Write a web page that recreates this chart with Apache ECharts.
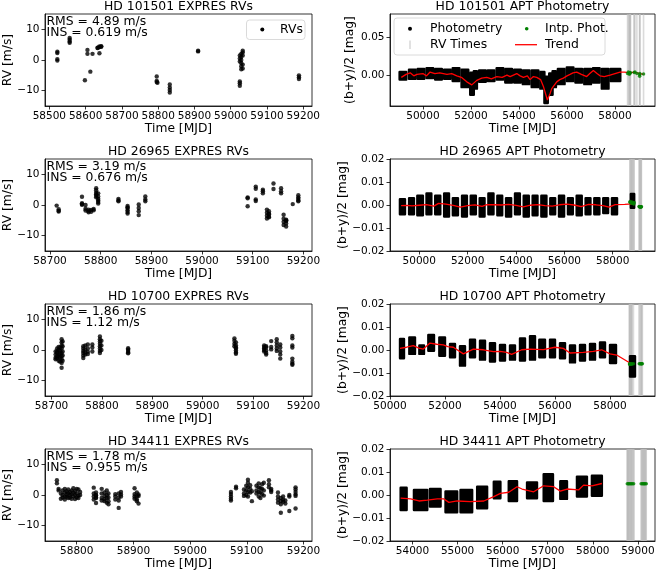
<!DOCTYPE html>
<html>
<head>
<meta charset="utf-8">
<title>EXPRES RVs and APT photometry</title>
<script src="https://cdn.jsdelivr.net/npm/echarts@6/dist/echarts.min.js"></script>
<style>
html, body { margin: 0; padding: 0; background: #fff; }
#main { width: 657px; height: 572px; }
</style>
</head>
<body>
<div id="main"></div>
<script>
// ---------------- data ----------------
var stars = ['HD 101501', 'HD 26965', 'HD 10700', 'HD 34411'];
var rmsText = ['4.89', '3.19', '1.86', '1.78'];
var insText = ['0.619', '0.676', '1.12', '0.955'];

// RVs: [night MJD, [rv values m/s]]
var rv101501 = [
    [58522, [2.7, 2.3, 0.3, -0.2]], [58556, [7.2, 6.6, 6.0, 5.6]], [58598, [-6.6]],
    [58605, [3.3, 2.0]], [58613, [-3.8]], [58619, [2.0]], [58633, [4.0, 3.9]],
    [58638, [4.4, 4.2, 2.2]], [58643, [4.5, 4.3]], [58796, [-5.4, -6.8, -7.2]],
    [58798, [-7.4]], [58832, [-8.0, -9.0, -9.8, -10.6]], [58910, [3.0, 2.8]],
    [59025, [-7.0, -7.6, -8.4, 1.5, 0.5, -0.5]], [59029, [2.0, 1.0, 0.0, -1.0, -2.0, -3.0]],
    [59033, [3.0, 2.5, 1.5, -1.5, -2.8]], [59188, [-5.0, -5.6, -6.2]]
];
var rv26965 = [
    [58713, [-0.2]], [58717, [-1.4, -1.9, -2.1]], [58763, [2.7, 0.6, 0.1, 0.3]],
    [58770, [0.0, -1.2, -1.8]], [58776, [-1.5, -2.0, -2.4]], [58781, [-2.2, -1.6]],
    [58786, [-1.3, -1.7]], [58791, [5.5, 4.8, 4.0, 3.5, 3.0, 2.5]],
    [58795, [3.8, 2.8, 2.0, 1.5, 1.0, 0.5]], [58835, [2.0, 1.5, 1.2]],
    [58853, [-0.3, -1.0, -1.7, -2.3, -2.8, -0.8]], [58875, [0.2, -1.0, -2.0, -3.3]],
    [58888, [2.8, 1.2, 1.8]], [59090, [2.5, 2.2, -0.4]], [59106, [6.0, 5.3, 1.8, 1.3]],
    [59120, [5.0, 4.5, 3.8]], [59128, [-1.5, -2.5, -3.5, -4.4]], [59132, [-2.0, -3.0, -4.0, -2.8, -3.8]],
    [59141, [7.0, 5.2]], [59156, [5.5, 3.8, 4.5]], [59161, [-3.2, -4.5, -5.5, -6.5]],
    [59166, [-5.0, -6.0, -7.0, -5.2, -4.8]], [59179, [0.3]], [59190, [3.2, 2.5, 2.0, 1.5, 1.2]]
];
var rv10700 = [
    [58708, [-0.5, -1.5, -2.5, -3.0]], [58711, [0.5, -0.5, -1.0, -2.0, -2.8]],
    [58714, [1.0, 0.0, -1.5, -2.2, -3.5]], [58717, [0.8, -0.3, -1.2, -2.5, -3.8]],
    [58720, [3.5, 2.5, 1.5, 0.5, -1.0, -2.0, -3.0, -4.2, -5.8]], [58722, [2.8, 1.2, -0.5, -1.8, -3.5]],
    [58763, [1.2, 0.5, -0.3, -1.0, -1.8, -2.6]], [58767, [1.5, 0.2, -0.8, -1.5]],
    [58772, [1.8, 0.5, -0.6, -1.3]], [58781, [1.8, 0.8, -0.5]],
    [58796, [4.4, 3.5, 2.8, 2.0, 1.2, 0.5, -0.3, -1.0]], [58799, [3.0, 1.5, 0.0]],
    [58852, [0.6, 0.2, -0.3, -0.8, -1.1]], [59063, [3.8, 3.0, 2.0, 1.2]],
    [59066, [0.5, -0.2, -0.8, -1.2, 1.5, 0.8, 2.5]], [59122, [1.5, 1.0, 0.5, 0.0, -0.5]],
    [59126, [-1.0, -1.5, 0.8, -0.2, 1.2]], [59136, [2.9, 1.0, 0.2]],
    [59147, [3.5, 2.5, 1.5, 0.5, -0.3]], [59154, [1.8, 0.8, -0.5, -1.5, -2.8]],
    [59178, [4.6, 3.8, 1.5, 0.8, -2.8, -3.8, -4.5, -4.8]]
];
var rv34411 = [
    [58765, [4.8, 3.8]], [58768, [2.0, 1.5]], [58772, [0.5, -1.2]], [58775, [1.5, 0.0, -0.8]],
    [58779, [2.0, 0.8, -0.5, -1.5]], [58782, [1.2, 0.2, -0.6]], [58785, [1.8, 0.5, -1.0]],
    [58788, [0.0, -0.8, 1.0]], [58791, [1.5, 0.3, -1.2]], [58794, [2.2, 0.8, -0.4]],
    [58797, [0.0, -1.3, 1.2]], [58800, [2.0, 0.5, -0.8]], [58803, [1.8, -0.2, -1.0]],
    [58806, [1.0, 0.0]], [58830, [2.4, 0.5, -0.5, -1.5]], [58834, [0.0, -1.0, -0.2, -2.6, 0.8, -0.8]],
    [58844, [2.0, 0.5, -1.0, -1.8]], [58849, [0.8, -0.3, -1.4, -2.0]], [58853, [1.5, 0.0, -1.0, -2.5]],
    [58856, [0.5, -0.8, -3.0, -2.0]], [58868, [0.3, -0.5, -1.5]], [58874, [0.5, -0.8, -4.2, -1.8]],
    [58878, [1.0, 0.2, -0.5]], [58902, [2.2, 0.3, -0.5, -1.2]], [58906, [0.8, -0.5, -1.5, -2.0]],
    [58909, [-0.3, -2.8, 0.2]], [59072, [1.0, 0.3, -0.5, -1.2, -1.8]], [59081, [2.7, 2.2]],
    [59095, [1.8, 0.5, -0.3]], [59099, [3.0, 1.5, 0.0]], [59102, [5.0, 4.0, 2.5, 1.0, -0.5]],
    [59106, [3.2, 2.0, 0.8]], [59109, [-2.0, 1.2]], [59117, [3.0, 1.5, 0.5]],
    [59121, [3.8, 2.5, 1.0, -0.5]], [59124, [2.2, 0.8, -1.0]], [59127, [3.5, 2.0, 0.3]],
    [59130, [4.0, 1.5, -0.2]], [59139, [4.8, 3.5, 2.5]], [59143, [1.5, 1.0, 2.0]],
    [59155, [0.8, -0.5, -1.5, -2.5]], [59160, [-1.0, -2.0, -3.0, -5.8]], [59164, [-0.5, -2.2, -1.5]],
    [59168, [-2.8, -1.8]], [59175, [0.0, -0.5, -5.2]], [59186, [2.5, 1.8, 1.0, 0.2, -0.3, -4.4]]
];

// photometry seasons: [start MJD, end MJD, lowest mag, highest mag]
var phot101501 = [
    [49030, 49310, -0.006, 0.004], [49420, 49700, -0.005, 0.007], [49780, 50060, -0.005, 0.008],
    [50150, 50430, -0.004, 0.009], [50510, 50790, -0.006, 0.008], [50880, 51160, -0.005, 0.007],
    [51240, 51520, -0.008, 0.009], [51610, 51890, -0.016, 0.007], [51970, 52120, -0.026, 0.003],
    [52120, 52250, -0.018, 0.005], [52340, 52620, -0.009, 0.006], [52700, 52980, -0.008, 0.006],
    [53070, 53350, -0.006, 0.009], [53430, 53710, -0.010, 0.008], [53800, 54080, -0.010, 0.007],
    [54160, 54440, -0.012, 0.006], [54530, 54810, -0.016, 0.006], [54890, 55060, -0.018, 0.004],
    [55060, 55200, -0.037, -0.002], [55260, 55400, -0.026, 0.002], [55400, 55540, -0.016, 0.005],
    [55620, 55900, -0.012, 0.008], [55990, 56270, -0.008, 0.010], [56350, 56630, -0.010, 0.008],
    [56720, 57000, -0.012, 0.008], [57080, 57360, -0.010, 0.009], [57450, 57730, -0.018, 0.008],
    [57810, 58220, -0.008, 0.008]
];
var phot26965 = [
    [49200, 49410, -0.0040, 0.0025], [49580, 49780, -0.0040, 0.0030], [49920, 50150, -0.0045, 0.0040],
    [50300, 50500, -0.0040, 0.0050], [50660, 50870, -0.0040, 0.0040], [51030, 51230, -0.0050, 0.0050],
    [51390, 51600, -0.0045, 0.0030], [51770, 51970, -0.0050, 0.0040], [52130, 52340, -0.0040, 0.0040],
    [52500, 52700, -0.0050, 0.0030], [52860, 53070, -0.0040, 0.0050], [53230, 53430, -0.0045, 0.0040],
    [53590, 53800, -0.0050, 0.0030], [53960, 54160, -0.0040, 0.0050], [54320, 54530, -0.0050, 0.0040],
    [54690, 54890, -0.0045, 0.0040], [55050, 55260, -0.0050, 0.0040], [55420, 55620, -0.0040, 0.0030],
    [55780, 55990, -0.0050, 0.0040], [56150, 56350, -0.0040, 0.0030], [56510, 56720, -0.0045, 0.0040],
    [56880, 57080, -0.0040, 0.0030], [57240, 57450, -0.0040, 0.0030], [57610, 57810, -0.0035, 0.0030],
    [57970, 58180, -0.0040, 0.0030], [58750, 58890, -0.0012, 0.0048]
];
var phot10700 = [
    [50364, 50509, -0.0036, 0.0048], [50703, 50909, -0.0017, 0.0055], [51067, 51236, -0.0017, 0.0020],
    [51394, 51600, -0.0003, 0.0065], [51794, 52000, -0.0025, 0.0055], [52182, 52364, -0.0032, 0.0026],
    [52545, 52727, -0.0068, 0.0016], [52909, 53091, -0.0032, 0.0045], [53273, 53455, -0.0042, 0.0040],
    [53636, 53818, -0.0050, 0.0030], [54000, 54182, -0.0046, 0.0022], [54364, 54545, -0.0042, 0.0020],
    [54727, 54909, -0.0046, 0.0050], [55091, 55273, -0.0042, 0.0060], [55430, 55636, -0.0032, 0.0045],
    [55818, 56000, -0.0032, 0.0045], [56182, 56364, -0.0036, 0.0030], [56545, 56727, -0.0054, 0.0020],
    [56909, 57091, -0.0046, 0.0022], [57273, 57455, -0.0042, 0.0026], [57636, 57818, -0.0032, 0.0033],
    [58000, 58218, -0.0057, 0.0022], [58727, 58909, -0.0115, -0.0027]
];
var phot34411 = [
    [53736, 53869, -0.0065, 0.0032], [54031, 54327, -0.0065, 0.0022], [54386, 54622, -0.0050, 0.0026],
    [54732, 54991, -0.0075, 0.0015], [55065, 55323, -0.0075, 0.0022], [55434, 55655, -0.0058, 0.0036],
    [55803, 55950, -0.0014, 0.0058], [56135, 56319, -0.0026, 0.0060], [56541, 56762, -0.0014, 0.0055],
    [56910, 57116, -0.0026, 0.0090], [57279, 57427, -0.0017, 0.0060], [57648, 57870, -0.0007, 0.0080],
    [57980, 58201, -0.0003, 0.0084]
];

// trend lines: [MJD, mag]
var trend101501 = [
    [49100, -0.003], [49300, 0.001], [49470, 0.003], [49620, -0.001], [49750, 0.001], [50000, 0.002],
    [50150, -0.001], [50300, 0.004], [50500, 0.002], [50700, 0.003], [51000, 0.001], [51200, 0.002],
    [51412, -0.001], [51600, -0.003], [51828, -0.009], [52036, -0.013], [52244, -0.007], [52450, -0.004],
    [52660, -0.003], [52850, -0.005], [53076, -0.002], [53300, -0.003], [53500, 0.000], [53631, -0.002],
    [53908, 0.002], [54050, -0.001], [54186, -0.003], [54350, -0.001], [54463, -0.006], [54600, -0.002],
    [54741, -0.003], [54900, -0.006], [55018, -0.015], [55184, -0.033], [55300, -0.024], [55365, -0.018],
    [55573, -0.009], [55700, -0.006], [55850, -0.004], [56000, -0.001], [56128, 0.001], [56250, 0.003],
    [56405, 0.004], [56600, 0.001], [56821, -0.002], [56950, 0.002], [57098, 0.006], [57250, 0.002],
    [57376, -0.001], [57550, -0.002], [57792, 0.000], [58000, 0.002], [58208, 0.004], [58400, 0.004],
    [58624, 0.003], [58800, 0.004], [59040, 0.002], [59190, 0.001]
];
var trend26965 = [
    [49250, -0.0003], [49500, -0.0002], [49700, -0.0004], [50000, -0.0001], [50300, 0.0002],
    [50600, -0.0005], [50800, 0.0007], [51100, 0.0004], [51400, -0.0002], [51700, -0.0009],
    [52000, -0.0003], [52300, 0.0001], [52600, -0.0006], [52800, 0.0002], [53100, 0.0001],
    [53400, 0.0000], [53700, 0.0003], [54000, -0.0002], [54300, -0.0008], [54600, -0.0001],
    [54900, 0.0002], [55200, -0.0003], [55500, -0.0005], [55800, 0.0001], [56100, 0.0004],
    [56400, 0.0000], [56700, -0.0007], [57000, 0.0003], [57300, 0.0001], [57600, -0.0003],
    [57850, -0.0009], [58100, 0.0002], [58500, 0.0003], [58800, 0.0005]
];
var trend10700 = [
    [50364, 0.0007], [50600, 0.0012], [50848, 0.0019], [51050, 0.0008], [51212, 0.0004],
    [51454, 0.0030], [51700, 0.0025], [51939, 0.0022], [52100, 0.0015], [52303, 0.0012],
    [52667, -0.0017], [53030, 0.0004], [53394, 0.0001], [53758, -0.0007], [54000, -0.0006],
    [54242, -0.0010], [54424, -0.0019], [54788, 0.0001], [55091, 0.0004], [55576, 0.0002],
    [56000, 0.0012], [56303, 0.0007], [56545, -0.0013], [57030, -0.0010], [57394, -0.0006],
    [57697, 0.0001], [58000, -0.0017], [58242, -0.0022], [58787, -0.0061]
];
var trend34411 = [
    [53736, -0.0014], [53958, -0.0017], [54142, -0.0026], [54327, -0.0022], [54548, -0.0017],
    [54696, -0.0017], [54806, -0.0032], [54991, -0.0026], [55286, -0.0029], [55581, -0.0026],
    [55803, -0.0007], [55950, 0.0007], [56135, 0.0012], [56319, 0.0036], [56430, 0.0026],
    [56688, 0.0014], [56910, 0.0040], [57131, 0.0036], [57279, 0.0017], [57427, 0.0026],
    [57684, 0.0022], [57795, 0.0043], [57980, 0.0040], [58201, 0.0050]
];

// interpolated photometry at the RV nights: [MJD, mag]
var intp101501 = [
    [58522, 0.0020], [58556, 0.0040], [58598, 0.0010], [58605, 0.0030], [58619, 0.0025],
    [58638, 0.0035], [58796, 0.0035], [58832, 0.0040], [58910, 0.0020], [59025, -0.0015],
    [59029, 0.0005], [59033, 0.0020], [59188, 0.0015]
];
var intp26965 = [
    [58713, 0.0012], [58720, 0.0015], [58765, 0.0010], [58780, 0.0008], [58795, 0.0013],
    [58835, 0.0009], [58855, 0.0006], [58875, 0.0004], [58888, 0.0011], [59090, -0.0007],
    [59106, -0.0008], [59120, -0.0008], [59130, -0.0009], [59141, -0.0008], [59156, -0.0008],
    [59165, -0.0009], [59179, -0.0008], [59190, -0.0008]
];
var intp10700 = [
    [58708, -0.0061], [58715, -0.0061], [58722, -0.0062], [58765, -0.0061], [58781, -0.0061],
    [58797, -0.0061], [58852, -0.0060], [59063, -0.0060], [59090, -0.0060], [59122, -0.0060],
    [59136, -0.0060], [59150, -0.0060], [59178, -0.0060]
];
var intp34411 = [
    [58765, 0.0049], [58790, 0.0049], [58806, 0.0049], [58832, 0.0049], [58853, 0.0049],
    [58876, 0.0049], [58906, 0.0049], [59072, 0.0049], [59099, 0.0049], [59121, 0.0049],
    [59140, 0.0049], [59160, 0.0049], [59186, 0.0049]
];

// axis ranges and tick labels
var rvXMin = [58488, 58690, 58687, 58744];
var rvXMax = [59224, 59217, 59217, 59215];
var rvXTicks = [
    [58500, 58600, 58700, 58800, 58900, 59000, 59100, 59200],
    [58700, 58800, 58900, 59000, 59100, 59200],
    [58700, 58800, 58900, 59000, 59100, 59200],
    [58800, 58900, 59000, 59100, 59200]
];
var rvYTicks = [-10, 0, 10];
var photXMin = [48630, 48790, 50000, 53500];
var photXMax = [59665, 59750, 59636, 59380];
var photXTicks = [
    [50000, 52000, 54000, 56000, 58000],
    [50000, 52000, 54000, 56000, 58000],
    [50000, 52000, 54000, 56000, 58000],
    [54000, 55000, 56000, 57000, 58000, 59000]
];
var photYMin = [-0.041, -0.02, -0.02, -0.02];
var photYMax = [0.081, 0.02, 0.02, 0.02];
var photYTicks = [
    [0, 0.05],
    [-0.02, -0.01, 0, 0.01, 0.02],
    [-0.02, -0.01, 0, 0.01, 0.02],
    [-0.02, -0.01, 0, 0.01, 0.02]
];

var rvData = [rv101501, rv26965, rv10700, rv34411];
var photData = [phot101501, phot26965, phot10700, phot34411];
var trendData = [trend101501, trend26965, trend10700, trend34411];
var intpData = [intp101501, intp26965, intp10700, intp34411];

// ---------------- layout ----------------
var FONT = 'DejaVu Sans';
var rowTop = [14, 159, 304, 449];
var rowH = 92;
var leftX = 45, leftW = 267;
var rightX = 390, rightW = 265;

function flatten(groups) {
    var out = [];
    groups.forEach(function (g) {
        g[1].forEach(function (v) { out.push([g[0], v]); });
    });
    return out;
}
function nights(groups) {
    return groups.map(function (g) { return [g[0], 0]; });
}
function minusFmt(v) {
    return v < 0 ? '\u2212' + (-v) : String(v);
}
function magFmt(v) {
    if (Math.abs(v) < 1e-9) return '0.00';
    return (v < 0 ? '\u2212' : '') + Math.abs(v).toFixed(2);
}
function makeAxis(idx, min, max, ticks, fmt, name, gap, margin) {
    return {
        type: 'value', gridIndex: idx, min: min, max: max,
        name: name, nameLocation: 'middle', nameGap: gap,
        nameTextStyle: { fontFamily: FONT, fontSize: 12.3, color: '#000' },
        axisLine: { show: true, onZero: false, lineStyle: { color: '#000', width: 0.8 } },
        axisTick: { show: true, length: 3.5, customValues: ticks, lineStyle: { color: '#000', width: 0.8 } },
        axisLabel: { show: true, margin: margin, customValues: ticks, formatter: fmt,
            fontFamily: FONT, fontSize: 10.5, color: '#000' },
        splitLine: { show: false }
    };
}
// one season of photometry: the outline stroke stands in for the marker radius
function renderSeason(params, api) {
    var p0 = api.coord([api.value(0), api.value(3)]);
    var p1 = api.coord([api.value(1), api.value(2)]);
    return {
        type: 'rect',
        shape: { x: p0[0], y: p0[1], width: Math.max(p1[0] - p0[0], 0.5), height: p1[1] - p0[1] },
        style: { fill: '#000', stroke: '#000', lineWidth: 2.4, lineJoin: 'round' }
    };
}
function renderNight(params, api) {
    var cs = params.coordSys;
    var x = api.coord([api.value(0), 0])[0];
    return {
        type: 'line',
        shape: { x1: x, y1: cs.y, x2: x, y2: cs.y + cs.height },
        style: { stroke: '#bdbdbd', lineWidth: 1.6, opacity: 0.55 }
    };
}

var grids = [], xAxes = [], yAxes = [], series = [], titles = [];
var textStyle = { fontFamily: FONT, fontSize: 12.4, fontWeight: 'normal', color: '#000' };

stars.forEach(function (star, i) {
    var li = 2 * i, ri = 2 * i + 1;
    var top = rowTop[i];
    // RV panel
    grids.push({ left: leftX, top: top, width: leftW, height: rowH, show: true,
        borderColor: '#000', borderWidth: 0.8, outerBoundsMode: 'none' });
    xAxes.push(makeAxis(li, rvXMin[i], rvXMax[i], rvXTicks[i], function (v) { return String(v); }, 'Time [MJD]', 15.5, 5));
    yAxes.push(makeAxis(li, -15, 15, rvYTicks, minusFmt, 'RV [m/s]', 29, 5.5));
    series.push({
        name: 'RVs', type: 'scatter', xAxisIndex: li, yAxisIndex: li,
        data: flatten(rvData[i]), symbolSize: 4.4, itemStyle: { color: '#000' }, silent: true
    });
    titles.push({ text: star + ' EXPRES RVs', left: leftX + leftW / 2, top: top - 14.5, textAlign: 'center',
        padding: 0, textStyle: Object.assign({ lineHeight: 14 }, textStyle) });
    titles.push({ text: 'RMS = ' + rmsText[i] + ' m/s\nINS = ' + insText[i] + ' m/s', left: leftX + 1.5, top: top + 2.5,
        padding: 0, textStyle: Object.assign({ lineHeight: 11 }, textStyle) });

    // photometry panel
    grids.push({ left: rightX, top: top, width: rightW, height: rowH, show: true,
        borderColor: '#000', borderWidth: 0.8, outerBoundsMode: 'none' });
    xAxes.push(makeAxis(ri, photXMin[i], photXMax[i], photXTicks[i], function (v) { return String(v); }, 'Time [MJD]', 15.5, 5));
    yAxes.push(makeAxis(ri, photYMin[i], photYMax[i], photYTicks[i], magFmt, '(b+y)/2 [mag]', 34, 5.5));
    series.push({
        name: 'RV Times', type: 'custom', xAxisIndex: ri, yAxisIndex: ri, z: 1, clip: true,
        renderItem: renderNight, encode: { x: 0, y: 1 }, data: nights(rvData[i]), silent: true
    });
    series.push({
        name: 'Photometry', type: 'custom', xAxisIndex: ri, yAxisIndex: ri, z: 2, clip: true,
        renderItem: renderSeason, encode: { x: [0, 1], y: [2, 3] }, data: photData[i], silent: true
    });
    series.push({
        name: 'Trend', type: 'line', xAxisIndex: ri, yAxisIndex: ri, z: 3, symbol: 'none',
        lineStyle: { color: '#ff0000', width: 1.3 }, data: trendData[i], silent: true
    });
    series.push({
        name: 'Intp. Phot.', type: 'scatter', xAxisIndex: ri, yAxisIndex: ri, z: 4,
        data: intpData[i], symbolSize: 3.5, itemStyle: { color: '#008000' }, silent: true
    });
    titles.push({ text: star + ' APT Photometry', left: rightX + rightW / 2, top: top - 14.5, textAlign: 'center',
        padding: 0, textStyle: Object.assign({ lineHeight: 14 }, textStyle) });
});

// legends of the top row, drawn like matplotlib's framed legends
var legendFont = '12.4px "DejaVu Sans"';
var graphics = [
    { type: 'rect', z: 100, shape: { x: 246.5, y: 20, width: 58.5, height: 19.5, r: 3 },
        style: { fill: 'rgba(255,255,255,0.8)', stroke: '#d0d0d0', lineWidth: 0.8 } },
    { type: 'circle', z: 101, shape: { cx: 262.3, cy: 29.5, r: 2 }, style: { fill: '#000' } },
    { type: 'text', z: 101, x: 280, y: 29.5, style: { text: 'RVs', font: legendFont, fill: '#000', verticalAlign: 'middle' } },

    { type: 'rect', z: 100, shape: { x: 394, y: 18, width: 211, height: 37, r: 3 },
        style: { fill: 'rgba(255,255,255,0.8)', stroke: '#d0d0d0', lineWidth: 0.8 } },
    { type: 'circle', z: 101, shape: { cx: 410, cy: 28.7, r: 2 }, style: { fill: '#000' } },
    { type: 'text', z: 101, x: 430, y: 28.7, style: { text: 'Photometry', font: legendFont, fill: '#000', verticalAlign: 'middle' } },
    { type: 'circle', z: 101, shape: { cx: 526.7, cy: 28.7, r: 1.8 }, style: { fill: '#008000' } },
    { type: 'text', z: 101, x: 545, y: 28.7, style: { text: 'Intp. Phot.', font: legendFont, fill: '#000', verticalAlign: 'middle' } },
    { type: 'line', z: 101, shape: { x1: 410, y1: 40.5, x2: 410, y2: 49 }, style: { stroke: '#dadada', lineWidth: 1.6 } },
    { type: 'text', z: 101, x: 430, y: 44.7, style: { text: 'RV Times', font: legendFont, fill: '#000', verticalAlign: 'middle' } },
    { type: 'line', z: 101, shape: { x1: 515, y1: 44.7, x2: 537, y2: 44.7 }, style: { stroke: '#ff0000', lineWidth: 1.3 } },
    { type: 'text', z: 101, x: 545, y: 44.7, style: { text: 'Trend', font: legendFont, fill: '#000', verticalAlign: 'middle' } }
];

var chart = echarts.init(document.getElementById('main'));
chart.setOption({
    animation: false,
    backgroundColor: '#fff',
    title: titles,
    grid: grids,
    xAxis: xAxes,
    yAxis: yAxes,
    series: series,
    graphic: graphics
});
</script>
</body>
</html>
